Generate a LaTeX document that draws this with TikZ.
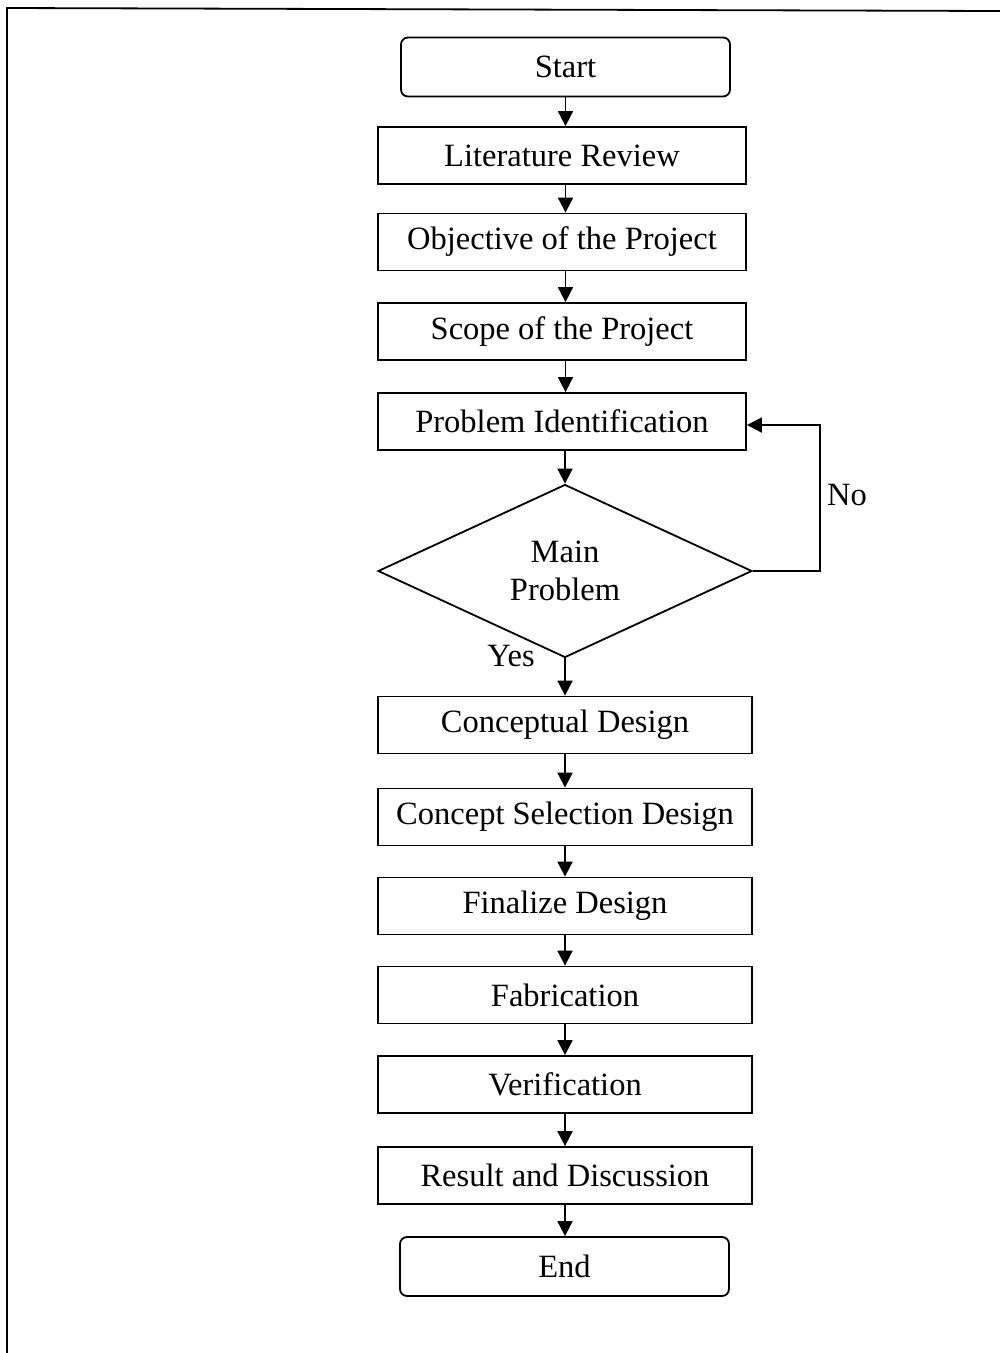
\documentclass[tikz,border=0pt]{standalone}
\usepackage{fontspec}
\setmainfont{Liberation Serif}
\usetikzlibrary{arrows.meta,shapes.geometric}
\begin{document}
\begin{tikzpicture}[x=1pt,y=-1pt,
  box/.style={draw,line width=1.8pt,minimum width=368pt,minimum height=57pt,inner sep=0pt,font=\fontsize{32.5}{38}\selectfont},
  wbox/.style={box,minimum width=374pt},
  term/.style={box,rounded corners=7pt,minimum width=329pt,minimum height=59pt},
  dec/.style={draw,line width=1.8pt,shape=diamond,aspect=2.16,minimum width=374pt,minimum height=173pt,inner sep=0pt,align=center,font=\fontsize{32.5}{38}\selectfont},
  arr/.style={line width=1.8pt,-{Triangle[length=15pt,width=15pt]}},
  lbl/.style={font=\fontsize{32.5}{38}\selectfont}]
\useasboundingbox (0,0) rectangle (1000,1353);
% frame
\draw[line width=1.8pt] (7,1353) -- (7,8) -- (1000,11);
% nodes
\node[term] (start) at (565.5,67) {Start};
\node[box] (lit) at (562,155.5) {Literature Review};
\node[box] (obj) at (562,242) {Objective of the Project};
\node[box] (scope) at (562,331.5) {Scope of the Project};
\node[box] (prob) at (562,421.5) {Problem Identification};
\node[dec] (main) at (565,571) {Main\\Problem};
\node[wbox] (concept) at (565,725) {Conceptual Design};
\node[wbox] (sel) at (565,817) {Concept Selection Design};
\node[wbox] (fin) at (565,906) {Finalize Design};
\node[wbox] (fab) at (565,995) {Fabrication};
\node[wbox] (ver) at (565,1084.5) {Verification};
\node[wbox] (res) at (565,1175.5) {Result and Discussion};
\node[term] (end) at (564.5,1266.5) {End};
% connectors
\draw[arr] (start.south) -- (start.south |- lit.north);
\draw[arr] (lit.south -| start.south) -- (obj.north -| start.south);
\draw[arr] (obj.south -| start.south) -- (scope.north -| start.south);
\draw[arr] (scope.south -| start.south) -- (prob.north -| start.south);
\draw[arr] (prob.south -| main.north) -- (main.north);
\draw[arr] (main.south) -- (concept.north);
\draw[arr] (concept.south) -- (sel.north);
\draw[arr] (sel.south) -- (fin.north);
\draw[arr] (fin.south) -- (fab.north);
\draw[arr] (fab.south) -- (ver.north);
\draw[arr] (ver.south) -- (res.north);
\draw[arr] (res.south) -- (res.south |- end.north);
\coordinate (c1) at (820,571);
\coordinate (c2) at (820,425);
\draw[arr] (main.east) -- (c1) -- (c2) -- (prob.east |- c2);
\node[lbl] (no) at (847,495) {No};
\node[lbl] (yes) at (511,656) {Yes};
\end{tikzpicture}
\end{document}
